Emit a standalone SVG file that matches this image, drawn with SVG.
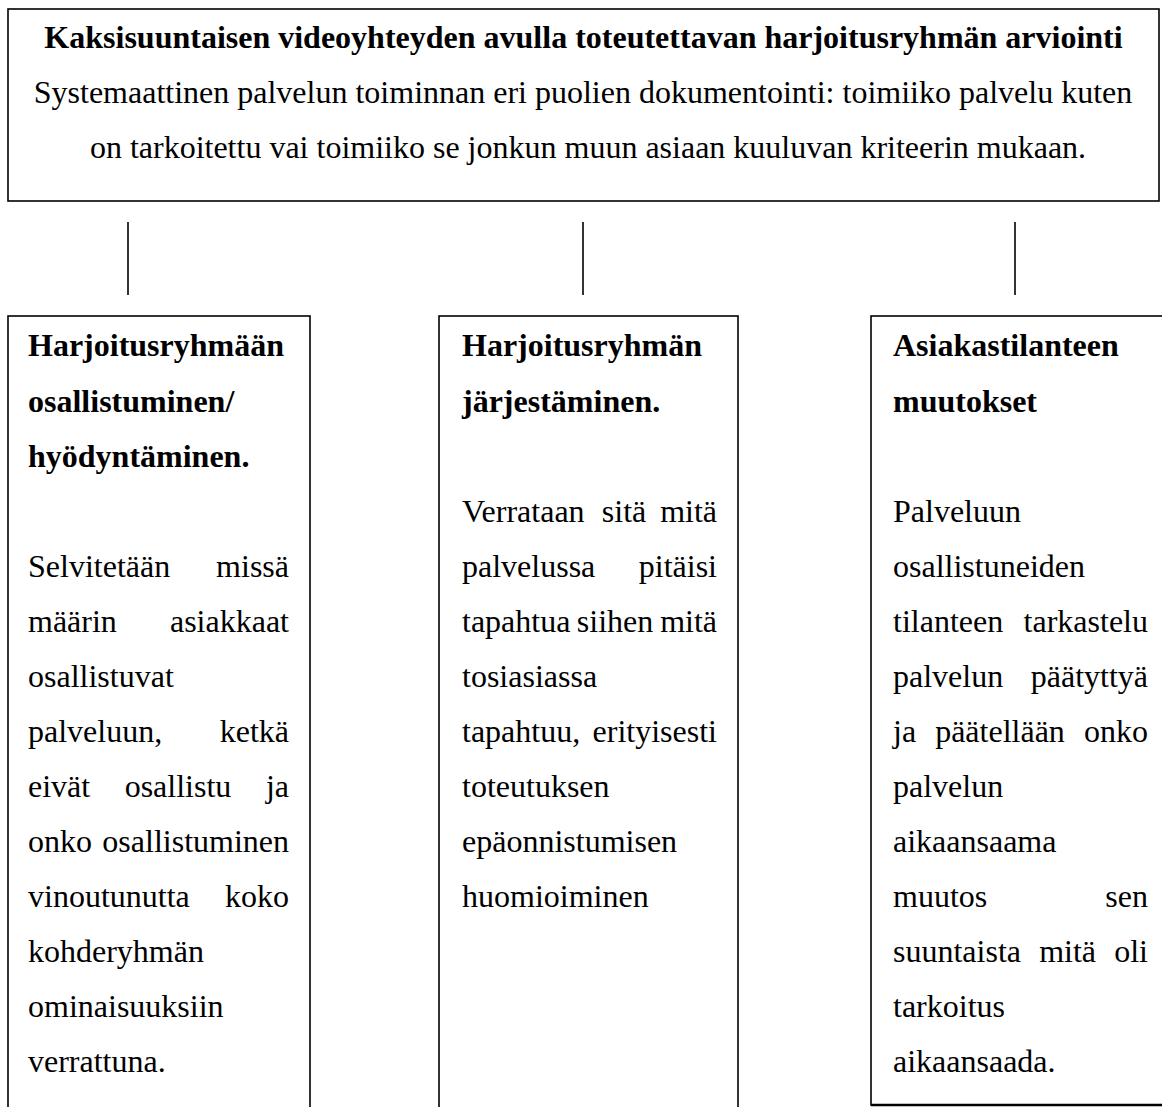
<svg xmlns="http://www.w3.org/2000/svg" width="1162" height="1107" viewBox="0 0 1162 1107">
<style>
.box{fill:#fff;stroke:#000;stroke-width:1.6}
.conn{stroke:#000;stroke-width:1.6}
text{font-family:"Liberation Serif","Times New Roman",serif;font-size:32px;fill:#000}
.b{font-weight:bold}
.m{text-anchor:middle}
.e{text-anchor:end}
</style>
<rect width="1162" height="1107" fill="#fff"/>
<g id="top">
<rect class="box" x="8" y="9" width="1151" height="192"/>
<text class="b m" x="583.5" y="48">Kaksisuuntaisen videoyhteyden avulla toteutettavan harjoitusryhmän arviointi</text>
<text class="m" x="583" y="103">Systemaattinen palvelun toiminnan eri puolien dokumentointi: toimiiko palvelu kuten</text>
<text class="m" x="588" y="158">on tarkoitettu vai toimiiko se jonkun muun asiaan kuuluvan kriteerin mukaan.</text>
</g>
<g id="connectors">
<line class="conn" x1="128" y1="222" x2="128" y2="295"/>
<line class="conn" x1="583" y1="222" x2="583" y2="295"/>
<line class="conn" x1="1015" y1="222" x2="1015" y2="295"/>
</g>
<g id="box1">
<rect class="box" x="8" y="316" width="302" height="810"/>
<text class="b" x="28" y="356">Harjoitusryhmään</text>
<text class="b" x="28" y="412">osallistuminen/</text>
<text class="b" x="28" y="467">hyödyntäminen.</text>
<text x="28" y="577">Selvitetään</text><text class="e" x="289" y="577">missä</text>
<text x="28" y="632">määrin</text><text class="e" x="289" y="632">asiakkaat</text>
<text x="28" y="687">osallistuvat</text>
<text x="28" y="742">palveluun,</text><text class="e" x="289" y="742">ketkä</text>
<text x="28" y="797">eivät</text><text class="m" x="178" y="797">osallistu</text><text class="e" x="289" y="797">ja</text>
<text x="28" y="852">onko</text><text class="e" x="289" y="852">osallistuminen</text>
<text x="28" y="907">vinoutunutta</text><text class="e" x="289" y="907">koko</text>
<text x="28" y="962">kohderyhmän</text>
<text x="28" y="1017">ominaisuuksiin</text>
<text x="28" y="1072">verrattuna.</text>
</g>
<g id="box2">
<rect class="box" x="439" y="316" width="299" height="810"/>
<text class="b" x="462" y="356">Harjoitusryhmän</text>
<text class="b" x="462" y="412">järjestäminen.</text>
<text x="462" y="522">Verrataan</text><text class="m" x="624" y="522">sitä</text><text class="e" x="717" y="522">mitä</text>
<text x="462" y="577">palvelussa</text><text class="e" x="717" y="577">pitäisi</text>
<text x="462" y="632">tapahtua</text><text class="m" x="615" y="632">siihen</text><text class="e" x="717" y="632">mitä</text>
<text x="462" y="687">tosiasiassa</text>
<text x="462" y="742">tapahtuu,</text><text class="e" x="717" y="742">erityisesti</text>
<text x="462" y="797">toteutuksen</text>
<text x="462" y="852">epäonnistumisen</text>
<text x="462" y="907">huomioiminen</text>
</g>
<g id="box3">
<rect class="box" x="871" y="316" width="300" height="789"/>
<line x1="871" y1="1105" x2="1162" y2="1105" stroke="#000" stroke-width="2.5"/>
<text class="b" x="893" y="356">Asiakastilanteen</text>
<text class="b" x="893" y="412">muutokset</text>
<text x="893" y="522">Palveluun</text>
<text x="893" y="577">osallistuneiden</text>
<text x="893" y="632">tilanteen</text><text class="e" x="1148" y="632">tarkastelu</text>
<text x="893" y="687">palvelun</text><text class="e" x="1148" y="687">päätyttyä</text>
<text x="893" y="742">ja</text><text class="m" x="1000" y="742">päätellään</text><text class="e" x="1148" y="742">onko</text>
<text x="893" y="797">palvelun</text>
<text x="893" y="852">aikaansaama</text>
<text x="893" y="907">muutos</text><text class="e" x="1148" y="907">sen</text>
<text x="893" y="962">suuntaista</text><text class="m" x="1067.6" y="962">mitä</text><text class="e" x="1148" y="962">oli</text>
<text x="893" y="1017">tarkoitus</text>
<text x="893" y="1072">aikaansaada.</text>
</g>
</svg>
